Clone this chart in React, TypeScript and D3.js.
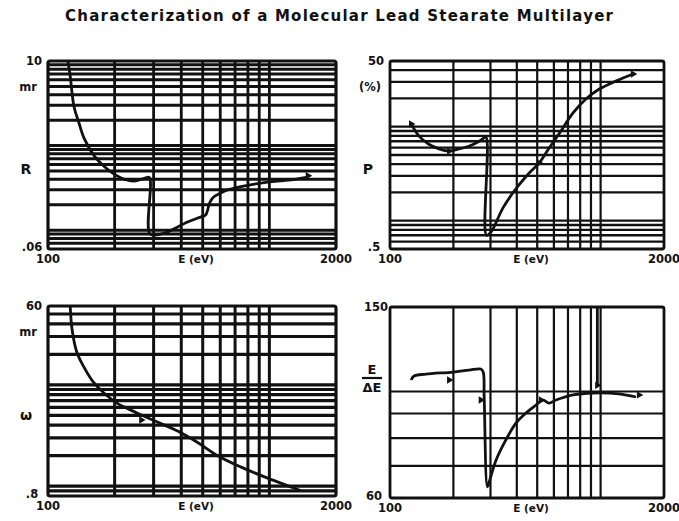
import React from 'react';
import * as d3 from 'd3';

const TITLE = 'Characterization of a Molecular Lead Stearate Multilayer';
const X_LABEL = 'E (eV)';
const X_MIN_LABEL = '100';
const X_MAX_LABEL = '2000';
const X_DOMAIN = [100, 2000];
const X_GRID = [200, 300, 400, 500, 600, 700, 800, 900, 1000];

// Panel R (reflectivity, mr)
const reflE = [123, 126, 131, 138, 146, 162, 179, 199, 221, 245, 272, 287, 289, 322, 346, 427, 489, 515, 526, 537, 560, 602, 648, 798, 983, 1212, 1493];
const reflR = [10, 6.6, 2.9, 1.85, 1.2, 0.75, 0.57, 0.46, 0.4, 0.38, 0.41, 0.42, 0.09, 0.09, 0.095, 0.125, 0.143, 0.151, 0.173, 0.21, 0.247, 0.275, 0.3, 0.34, 0.37, 0.39, 0.425];
const reflMarkE = [1493];
const reflMarkR = [0.44];

// Panel P (%)
const polE = [126, 137, 153, 171, 191, 213, 237, 265, 277, 286, 287, 302, 344, 397, 457, 510, 569, 635, 740, 852, 982, 1183, 1425];
const polP = [10.7, 8.0, 6.5, 5.8, 5.5, 5.8, 6.2, 7.0, 7.5, 7.7, 0.7, 0.76, 1.37, 2.2, 3.2, 4.1, 5.9, 8.4, 14, 19.7, 25, 30.6, 36.4];
const polMarkE = [126, 191, 510, 1425];
const polMarkP = [10.7, 5.5, 4.1, 36.4];

// Panel omega (mr)
const omgE = [126, 128.5, 135, 146, 160, 179, 205, 238, 272, 312, 385, 474, 584, 742, 983, 1290, 1388];
const omgW = [60, 35, 21, 14.7, 10.7, 8.3, 6.6, 5.6, 4.9, 4.3, 3.5, 2.7, 2.0, 1.55, 1.2, 0.96, 0.9];
const omgMarkE = [264];
const omgMarkW = [4.5];

// Panel E/dE
const resE = [126, 130, 148, 199, 237, 270, 277, 280, 290, 295, 319, 355, 397, 442, 493, 533, 569, 614, 740, 920, 1223, 1472];
const resV = [105.7, 107.7, 108.7, 109.8, 110.8, 111.4, 109.8, 97.4, 63.3, 64.6, 72, 79.3, 86, 90.2, 93.7, 96, 94.6, 96, 98.4, 99.3, 98.9, 97.4];
const res2E = [965, 965];
const res2V = [150, 103];
const resMarkE = [191, 270, 521, 965, 1522];
const resMarkV = [105.7, 96, 96, 103, 98.4];

type Series = { e: number[]; v: number[] };
type Panel = {
  x0: number; x1: number; y0: number; y1: number;
  yDomain: [number, number];
  top: string; bottom: string; unit?: string; name: string;
  series: Series[];
  marks: Series;
  gh: number; gv: number; bw: number;
  frac?: boolean;
};

const FONT = '"DejaVu Sans", Verdana, sans-serif';

function logGrid(lo: number, hi: number): number[] {
  const out: number[] = [];
  for (let k = Math.floor(Math.log10(lo)) - 1; k <= Math.ceil(Math.log10(hi)); k++) {
    for (let d = 1; d <= 9; d++) {
      const v = d * Math.pow(10, k);
      if (v > lo * 1.0001 && v < hi * 0.9999) out.push(v);
    }
  }
  return out;
}

function PanelView({ p }: { p: Panel }) {
  const x = d3.scaleLog().domain(X_DOMAIN).range([p.x0, p.x1]);
  const y = d3.scaleLog().domain(p.yDomain).range([p.y1, p.y0]);
  const line = d3.line<[number, number]>()
    .x(d => x(d[0]))
    .y(d => y(d[1]))
    .curve(d3.curveCatmullRom.alpha(0.5));
  const hLines = logGrid(p.yDomain[0], p.yDomain[1]);
  const tri = d3.symbol().type(d3.symbolTriangle).size(24)();
  const lx = p.x0 - 14;
  return (
    <g>
      {hLines.map((v, i) => (
        <line key={'h' + i} x1={p.x0} x2={p.x1} y1={y(v)} y2={y(v)} stroke="#111" strokeWidth={p.gh} />
      ))}
      {X_GRID.map((v, i) => (
        <line key={'v' + i} x1={x(v)} x2={x(v)} y1={p.y0} y2={p.y1} stroke="#111" strokeWidth={p.gv} />
      ))}
      <rect x={p.x0} y={p.y0} width={p.x1 - p.x0} height={p.y1 - p.y0} fill="none" stroke="#111" strokeWidth={p.bw} rx={2} />
      {p.series.map((s, i) => (
        <path key={'s' + i} d={line(s.e.map((e, j) => [e, s.v[j]] as [number, number])) || ''}
          fill="none" stroke="#111" strokeWidth={2.8} strokeLinejoin="round" />
      ))}
      {p.marks.e.map((e, i) => (
        <path key={'m' + i} d={tri || ''} transform={`translate(${x(e)},${y(p.marks.v[i])}) rotate(90)`} fill="#111" />
      ))}
      <g fontFamily={FONT} fontWeight="bold" fill="#111">
        <text x={lx} y={p.y0 + 4} fontSize={11.5} textAnchor="middle">{p.top}</text>
        {p.unit && <text x={lx - 6} y={p.y0 + 30} fontSize={11.5} textAnchor="middle">{p.unit}</text>}
        {!p.frac && <text x={lx - 8} y={p.y0 + (p.y1 - p.y0) * 0.6} fontSize={14} textAnchor="middle">{p.name}</text>}
        {p.frac && (
          <g>
            <text x={lx - 4} y={p.y0 + 67} fontSize={13} textAnchor="middle">E</text>
            <line x1={lx - 14} x2={lx + 6} y1={p.y0 + 71} y2={p.y0 + 71} stroke="#111" strokeWidth={2.2} />
            <text x={lx - 4} y={p.y0 + 85} fontSize={13} textAnchor="middle">ΔE</text>
          </g>
        )}
        <text x={lx - 2} y={p.y1 + 2} fontSize={11.5} textAnchor="middle">{p.bottom}</text>
        <text x={p.x0} y={p.y1 + 14} fontSize={11.5} textAnchor="middle">{X_MIN_LABEL}</text>
        <text x={(p.x0 + p.x1) / 2 + 4} y={p.y1 + 14} fontSize={10.5} textAnchor="middle">{X_LABEL}</text>
        <text x={p.x1} y={p.y1 + 14} fontSize={11.5} textAnchor="middle">{X_MAX_LABEL}</text>
      </g>
    </g>
  );
}

export default function App() {
  const panels: Panel[] = [
    { x0: 48, x1: 336, y0: 61, y1: 249, yDomain: [0.06, 10], top: '10', bottom: '.06', unit: 'mr', name: 'R',
      series: [{ e: reflE, v: reflR }], marks: { e: reflMarkE, v: reflMarkR }, gh: 3, gv: 2.8, bw: 3.2 },
    { x0: 390, x1: 664, y0: 61, y1: 249, yDomain: [0.5, 50], top: '50', bottom: '.5', unit: '(%)', name: 'P',
      series: [{ e: polE, v: polP }], marks: { e: polMarkE, v: polMarkP }, gh: 2.3, gv: 2.2, bw: 2.8 },
    { x0: 48, x1: 336, y0: 306, y1: 496, yDomain: [0.8, 60], top: '60', bottom: '.8', unit: 'mr', name: 'ω',
      series: [{ e: omgE, v: omgW }], marks: { e: omgMarkE, v: omgMarkW }, gh: 3.2, gv: 3, bw: 3.2 },
    { x0: 390, x1: 664, y0: 307, y1: 498, yDomain: [60, 150], top: '150', bottom: '60', name: 'E/ΔE', frac: true,
      series: [{ e: resE, v: resV }, { e: res2E, v: res2V }], marks: { e: resMarkE, v: resMarkV }, gh: 2.2, gv: 2.2, bw: 2.8 },
  ];
  return (
    <svg width={679} height={521} style={{ position: 'absolute', left: 0, top: 0, background: '#fff' }}>
      <rect x={0} y={0} width={679} height={521} fill="#fff" />
      <text x={339} y={21} textAnchor="middle" fontFamily={FONT} fontWeight="bold" fontSize={15}
        textLength={548} lengthAdjust="spacing" fill="#111">{TITLE}</text>
      {panels.map((p, i) => <PanelView key={i} p={p} />)}
    </svg>
  );
}
